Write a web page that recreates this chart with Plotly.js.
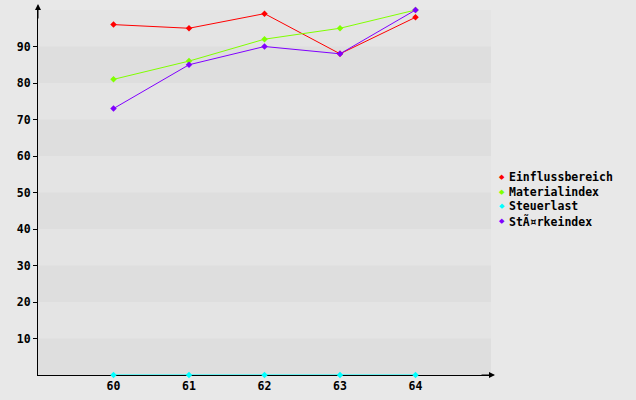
<!DOCTYPE html>
<html><head><meta charset="utf-8">
<script src="https://cdn.plot.ly/plotly-3.0.1.min.js"></script>
<style>html,body{margin:0;padding:0;background:#e8e8e8;}#c{width:636px;height:400px;}</style>
</head><body><div id="c"></div>
<script>
const categories = [60, 61, 62, 63, 64];
const seriesNames = ["Einflussbereich", "Materialindex", "Steuerlast", "StÃ¤rkeindex"];
const seriesColors = ["#ff0000", "#80ff00", "#00ffff", "#8000ff"];
const einflussbereich = [96, 95, 99, 88, 98];
const materialindex = [81, 86, 92, 95, 100];
const steuerlast = [0, 0, 0, 0, 0];
const staerkeindex = [73, 85, 90, 88, 100];
const yTicks = [10, 20, 30, 40, 50, 60, 70, 80, 90];
const seriesValues = [einflussbereich, materialindex, steuerlast, staerkeindex];

const FONT = {family: "DejaVu Sans Mono", size: 11.5, color: "#000", weight: "bold"};
const W = 636, H = 400, L = 38, R = 145, T = 10, B = 25;
const pw = W - L - R, ph = H - T - B;
const px = v => (v - L) / pw;
const py = v => (H - B - v) / ph;

const traces = seriesValues.map((vals, i) => ({
  x: categories, y: vals, type: "scatter", mode: "lines+markers",
  name: seriesNames[i], showlegend: false, cliponaxis: false,
  line: {color: seriesColors[i], width: 1},
  marker: {color: seriesColors[i], symbol: "diamond", size: 5}
}));

const shapes = [];
for (let v = 0; v < 100; v += 20) {
  shapes.push({type: "rect", xref: "paper", yref: "y", x0: 0, x1: 1, y0: v, y1: v + 10,
    fillcolor: "#dedede", line: {width: 0}, layer: "below"});
}

const annotations = [];
annotations.push({xref: "paper", yref: "paper", x: px(38), y: py(4), ax: px(38), ay: py(20), axref: "paper", ayref: "paper",
  showarrow: true, arrowhead: 2, arrowsize: 1.2, arrowwidth: 1, arrowcolor: "#000", text: ""});
annotations.push({xref: "paper", yref: "paper", x: px(495), y: py(375), ax: px(480), ay: py(375), axref: "paper", ayref: "paper",
  showarrow: true, arrowhead: 2, arrowsize: 1.2, arrowwidth: 1, arrowcolor: "#000", text: ""});
const legY0 = 177, legDy = 14.7;
seriesNames.forEach((n, i) => {
  const yy = legY0 + i * legDy;
  annotations.push({xref: "paper", yref: "paper", x: px(502), y: py(yy), xanchor: "center", yanchor: "middle",
    showarrow: false, text: "◆", font: {family: "DejaVu Sans", size: 7, color: seriesColors[i]}});
  annotations.push({xref: "paper", yref: "paper", x: px(507), y: py(yy), xanchor: "left", yanchor: "middle",
    showarrow: false, text: n, font: FONT});
});

const layout = {
  width: W, height: H,
  margin: {l: L, r: R, t: T, b: B, pad: 0},
  paper_bgcolor: "#e8e8e8", plot_bgcolor: "#e4e4e4",
  showlegend: false,
  xaxis: {range: [59, 65], tickvals: categories, ticktext: categories.map(String), showgrid: false, zeroline: false,
    showline: true, linecolor: "#000", linewidth: 1, ticks: "", tickfont: FONT, layer: "below traces", fixedrange: true},
  yaxis: {range: [0, 100], tickvals: yTicks, ticktext: yTicks.map(String), showgrid: false, zeroline: false,
    showline: true, linecolor: "#000", linewidth: 1, ticks: "outside", ticklen: 4, tickcolor: "#000", tickwidth: 1,
    tickfont: FONT, layer: "below traces", fixedrange: true},
  shapes: shapes, annotations: annotations
};
Plotly.newPlot("c", traces, layout, {displayModeBar: false, staticPlot: true});
</script></body></html>
